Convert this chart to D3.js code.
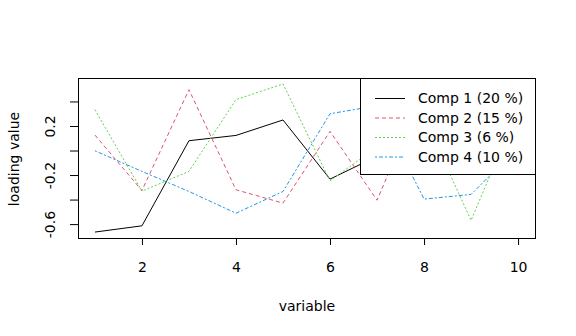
<!DOCTYPE html>
<html>
<head>
<meta charset="utf-8">
<script src="https://cdn.jsdelivr.net/npm/d3@7"></script>
<style>
  html, body { margin: 0; padding: 0; background: #fff; }
  svg text { font-family: "DejaVu Sans", sans-serif; fill: #000; }
</style>
</head>
<body>
<svg id="chart" width="576" height="336"></svg>
<script>
// Loadings of the first four components on variables 1..10
const variables = [1, 2, 3, 4, 5, 6, 7, 8, 9, 10];
const comp1 = [-0.665, -0.614, 0.080, 0.123, 0.249, -0.233, -0.047, 0.10, 0.20, 0.05];
const comp2 = [0.126, -0.326, 0.496, -0.320, -0.429, 0.156, -0.405, 0.49, 0.10, -0.20];
const comp3 = [0.333, -0.331, -0.170, 0.415, 0.543, -0.247, 0.028, 0.27, -0.569, 0.338];
const comp4 = [-0.002, -0.170, -0.334, -0.511, -0.334, 0.300, 0.365, -0.396, -0.358, 0.025];

const seriesNames = ["Comp 1 (20 %)", "Comp 2 (15 %)", "Comp 3 (6 %)", "Comp 4 (10 %)"];
const seriesColors = ["#000000", "#DF536B", "#61D04F", "#2297E6"];
const seriesDash = [null, "4,3", "2,2", "2,2,4,2"];

const xTicks = [2, 4, 6, 8, 10];
const yTicks = [-0.6, -0.4, -0.2, 0, 0.2, 0.4];
const yTickLabels = [-0.6, -0.2, 0.2];

const series = [comp1, comp2, comp3, comp4];

const FS = 14;
const svg = d3.select("#chart");
const box = { left: 78, right: 535, top: 78, bottom: 238 };

// R-style 4% padding around the data range
function padded(lo, hi) {
  const d = (hi - lo) * 0.04;
  return [lo - d, hi + d];
}
const allVals = series.flat();
const x = d3.scaleLinear()
  .domain(padded(d3.min(variables), d3.max(variables)))
  .range([box.left, box.right]);
const y = d3.scaleLinear()
  .domain(padded(d3.min(allVals), d3.max(allVals)))
  .range([box.bottom, box.top]);

// Lines
const line = d3.line().x((d, i) => x(variables[i])).y(d => y(d));
series.forEach((vals, k) => {
  svg.append("path")
    .attr("d", line(vals))
    .attr("fill", "none")
    .attr("stroke", seriesColors[k])
    .attr("stroke-width", 1)
    .attr("stroke-dasharray", seriesDash[k]);
});

// Axes
const xAxis = d3.axisBottom(x).tickValues(xTicks).tickSize(7).tickPadding(14)
  .tickFormat(d3.format("d"));
const gx = svg.append("g").attr("transform", `translate(0,${box.bottom})`).call(xAxis);
gx.select(".domain").remove();
gx.selectAll("line").attr("stroke", "#000");
gx.selectAll("text").attr("font-size", FS).attr("font-family", null)
  .attr("y", 29).attr("dy", null).attr("dominant-baseline", "central");

const yAxis = d3.axisLeft(y).tickValues(yTicks).tickSize(8)
  .tickFormat(d => yTickLabels.some(v => Math.abs(v - d) < 1e-9) ? d3.format(".1f")(d).replace("−", "-") : "");
const gy = svg.append("g").attr("transform", `translate(${box.left},0)`).call(yAxis);
gy.select(".domain").remove();
gy.selectAll("line").attr("stroke", "#000");
gy.selectAll("text")
  .attr("font-size", FS).attr("font-family", null)
  .attr("text-anchor", "middle")
  .attr("x", 0).attr("dy", null)
  .attr("transform", "translate(-28,0) rotate(-90)")
  .attr("dominant-baseline", "central");

// Plot frame
svg.append("rect")
  .attr("x", box.left + 0.5).attr("y", box.top + 0.5)
  .attr("width", box.right - box.left).attr("height", box.bottom - box.top)
  .attr("fill", "none").attr("stroke", "#000");

// Axis titles
svg.append("text").attr("x", 307).attr("y", 306)
  .attr("text-anchor", "middle").attr("dominant-baseline", "central")
  .attr("font-size", FS).text("variable");
svg.append("text")
  .attr("transform", "translate(14,159) rotate(-90)")
  .attr("text-anchor", "middle").attr("dominant-baseline", "central")
  .attr("font-size", FS).text("loading value");

// Legend
const lg = { x0: 360.5, y0: box.top + 0.5, x1: box.right + 0.5, y1: 174.5 };
svg.append("rect")
  .attr("x", lg.x0).attr("y", lg.y0)
  .attr("width", lg.x1 - lg.x0).attr("height", lg.y1 - lg.y0)
  .attr("fill", "#fff").attr("stroke", "#000");
const rowY = d3.scaleLinear().domain([0, 3]).range([98, 156.5]);
seriesNames.forEach((name, k) => {
  svg.append("line")
    .attr("x1", 375).attr("x2", 405)
    .attr("y1", rowY(k) + 0.5).attr("y2", rowY(k) + 0.5)
    .attr("stroke", seriesColors[k]).attr("stroke-width", 1)
    .attr("stroke-dasharray", seriesDash[k]);
  svg.append("text")
    .attr("x", 418).attr("y", rowY(k))
    .attr("dominant-baseline", "central")
    .attr("font-size", FS).text(name);
});
</script>
</body>
</html>
